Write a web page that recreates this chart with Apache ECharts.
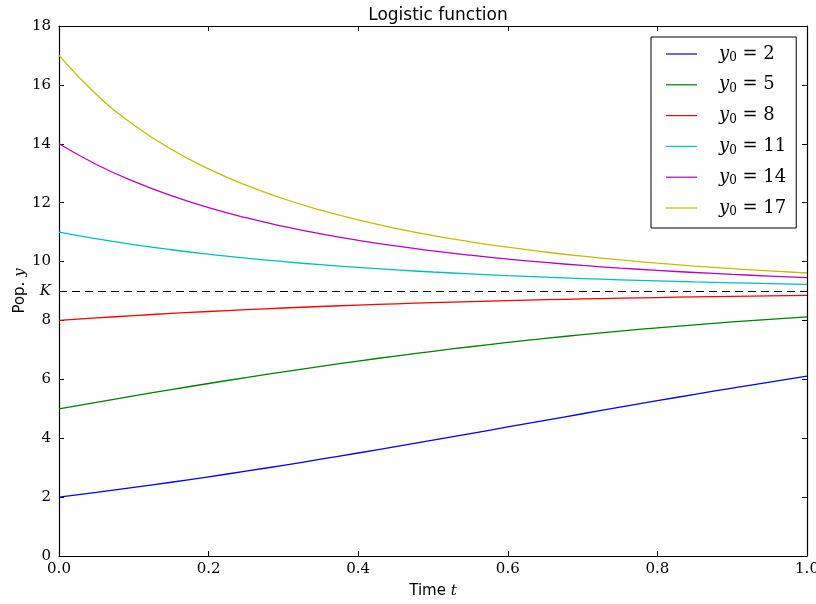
<!DOCTYPE html>
<html>
<head>
    <meta charset="utf-8">
    <title>Logistic function</title>
    <script src="https://cdn.jsdelivr.net/npm/echarts@6/dist/echarts.min.js"></script>
    <style>
        body { margin: 0; background: #fff; }
        #main { width: 816px; height: 604px; }
    </style>
    <script>
        // time samples and curves
        var times = [0, 0.05, 0.1, 0.15, 0.2, 0.25, 0.3, 0.35, 0.4, 0.45, 0.5,
                     0.55, 0.6, 0.65, 0.7, 0.75, 0.8, 0.85, 0.9, 0.95, 1.0];
        var y0s = [2, 5, 8, 11, 14, 17];
        var curve2 = [2, 2.160, 2.328, 2.505, 2.690, 2.882, 3.081, 3.287, 3.498, 3.714, 3.934,
                      4.157, 4.382, 4.606, 4.831, 5.053, 5.274, 5.490, 5.701, 5.907, 6.108];
        var curve5 = [5, 5.221, 5.438, 5.651, 5.859, 6.060, 6.254, 6.441, 6.621, 6.791, 6.953,
                      7.107, 7.252, 7.389, 7.517, 7.637, 7.748, 7.852, 7.949, 8.039, 8.121];
        var curve8 = [8, 8.086, 8.164, 8.237, 8.304, 8.366, 8.422, 8.474, 8.521, 8.565, 8.604,
                      8.640, 8.673, 8.704, 8.731, 8.756, 8.778, 8.799, 8.818, 8.835, 8.850];
        var curve11 = [11, 10.773, 10.573, 10.401, 10.250, 10.115, 9.998, 9.893, 9.801, 9.718, 9.645,
                       9.580, 9.521, 9.469, 9.422, 9.380, 9.343, 9.309, 9.279, 9.251, 9.227];
        var curve14 = [14, 13.297, 12.720, 12.238, 11.833, 11.489, 11.194, 10.940, 10.721, 10.529, 10.362,
                       10.215, 10.085, 9.971, 9.869, 9.780, 9.700, 9.629, 9.565, 9.508, 9.457];
        var curve17 = [17, 15.673, 14.641, 13.816, 13.147, 12.595, 12.133, 11.745, 11.413, 11.130, 10.884,
                       10.672, 10.487, 10.324, 10.182, 10.056, 9.945, 9.847, 9.759, 9.682, 9.612];
        var K = 9;
        var colors = ['#0000ff', '#008000', '#ff0000', '#00bfbf', '#bf00bf', '#bfbf00'];

        window.onload = function () {
            var myChart = echarts.init(document.getElementById('main'));
            var curves = [curve2, curve5, curve8, curve11, curve14, curve17];
            var serif = 'DejaVu Serif';

            var series = [];
            for (var i = 0; i < curves.length; i++) {
                var pts = [];
                for (var j = 0; j < times.length; j++) {
                    pts.push([times[j], curves[i][j]]);
                }
                series.push({
                    name: 'y0 = ' + y0s[i],
                    type: 'line',
                    data: pts,
                    smooth: true,
                    showSymbol: false,
                    lineStyle: { color: colors[i], width: 1.3 },
                    itemStyle: { color: colors[i] }
                });
            }
            // carrying capacity
            series.push({
                type: 'line',
                data: [],
                markLine: {
                    silent: true,
                    symbol: 'none',
                    lineStyle: { color: '#000', type: [8, 5], width: 1.2 },
                    label: {
                        position: 'start',
                        formatter: 'K',
                        fontFamily: serif,
                        fontStyle: 'italic',
                        fontSize: 15,
                        color: '#000',
                        distance: 8
                    },
                    data: [{ yAxis: K }]
                }
            });

            var tickStyle = { inside: true, length: 5, lineStyle: { color: '#000' } };
            var option = {
                animation: false,
                title: {
                    text: 'Logistic function',
                    left: 433,
                    textAlign: 'center',
                    top: 2,
                    textStyle: { fontFamily: 'DejaVu Sans', fontWeight: 'normal', fontSize: 17, color: '#000' }
                },
                grid: { left: 59, right: 9, top: 26, bottom: 48, containLabel: false, outerBoundsMode: 'none' },
                legend: {
                    orient: 'vertical',
                    left: 651,
                    top: 37,
                    padding: [8, 10, 10, 15],
                    itemGap: 11.8,
                    itemWidth: 31,
                    itemHeight: 20,
                    icon: 'path://M0,9.4 L31,9.4 L31,10.6 L0,10.6 Z',
                    backgroundColor: '#fff',
                    borderColor: '#000',
                    borderWidth: 1,
                    borderRadius: 0,
                    data: series.slice(0, 6).map(function (s) { return s.name; }),
                    formatter: function (name) {
                        return '{i|y}{s|0}{n| = ' + name.split('= ')[1] + '}';
                    },
                    textStyle: {
                        padding: [0, 0, 0, 17],
                        rich: {
                            i: { fontFamily: serif, fontStyle: 'italic', fontSize: 18, color: '#000' },
                            s: { fontFamily: serif, fontSize: 12, color: '#000', verticalAlign: 'bottom', padding: [8, 0, 0, 0] },
                            n: { fontFamily: serif, fontSize: 18, color: '#000' }
                        }
                    }
                },
                xAxis: [{
                    type: 'value',
                    min: 0,
                    max: 1,
                    interval: 0.2,
                    name: '{a|Time }{b|t}',
                    nameLocation: 'middle',
                    nameGap: 28,
                    nameTextStyle: {
                        rich: {
                            a: { fontFamily: 'DejaVu Sans', fontSize: 15, color: '#000' },
                            b: { fontFamily: serif, fontStyle: 'italic', fontSize: 15, color: '#000' }
                        }
                    },
                    axisLine: { lineStyle: { color: '#000', width: 1.2 } },
                    axisTick: tickStyle,
                    splitLine: { show: false },
                    axisLabel: {
                        fontFamily: serif, fontSize: 15, color: '#000', margin: 6,
                        formatter: function (v) { return v.toFixed(1); }
                    }
                }, {
                    type: 'value',
                    position: 'top',
                    min: 0,
                    max: 1,
                    interval: 0.2,
                    axisLine: { show: true, onZero: false, lineStyle: { color: '#000', width: 1.2 } },
                    axisTick: tickStyle,
                    axisLabel: { show: false },
                    splitLine: { show: false }
                }],
                yAxis: [{
                    type: 'value',
                    min: 0,
                    max: 18,
                    interval: 2,
                    name: '{a|Pop. }{b|y}',
                    nameLocation: 'middle',
                    nameGap: 31,
                    nameMoveOverlap: false,
                    nameTextStyle: {
                        rich: {
                            a: { fontFamily: 'DejaVu Sans', fontSize: 15, color: '#000' },
                            b: { fontFamily: serif, fontStyle: 'italic', fontSize: 15, color: '#000' }
                        }
                    },
                    axisLine: { show: true, lineStyle: { color: '#000', width: 1.2 } },
                    axisTick: tickStyle,
                    splitLine: { show: false },
                    axisLabel: { fontFamily: serif, fontSize: 15, color: '#000', margin: 8 }
                }, {
                    type: 'value',
                    position: 'right',
                    min: 0,
                    max: 18,
                    interval: 2,
                    axisLine: { show: true, onZero: false, lineStyle: { color: '#000', width: 1.2 } },
                    axisTick: tickStyle,
                    axisLabel: { show: false },
                    splitLine: { show: false }
                }],
                series: series
            };

            myChart.setOption(option);
        };
    </script>
</head>
<body>
<div id="main"></div>
</body>
</html>
